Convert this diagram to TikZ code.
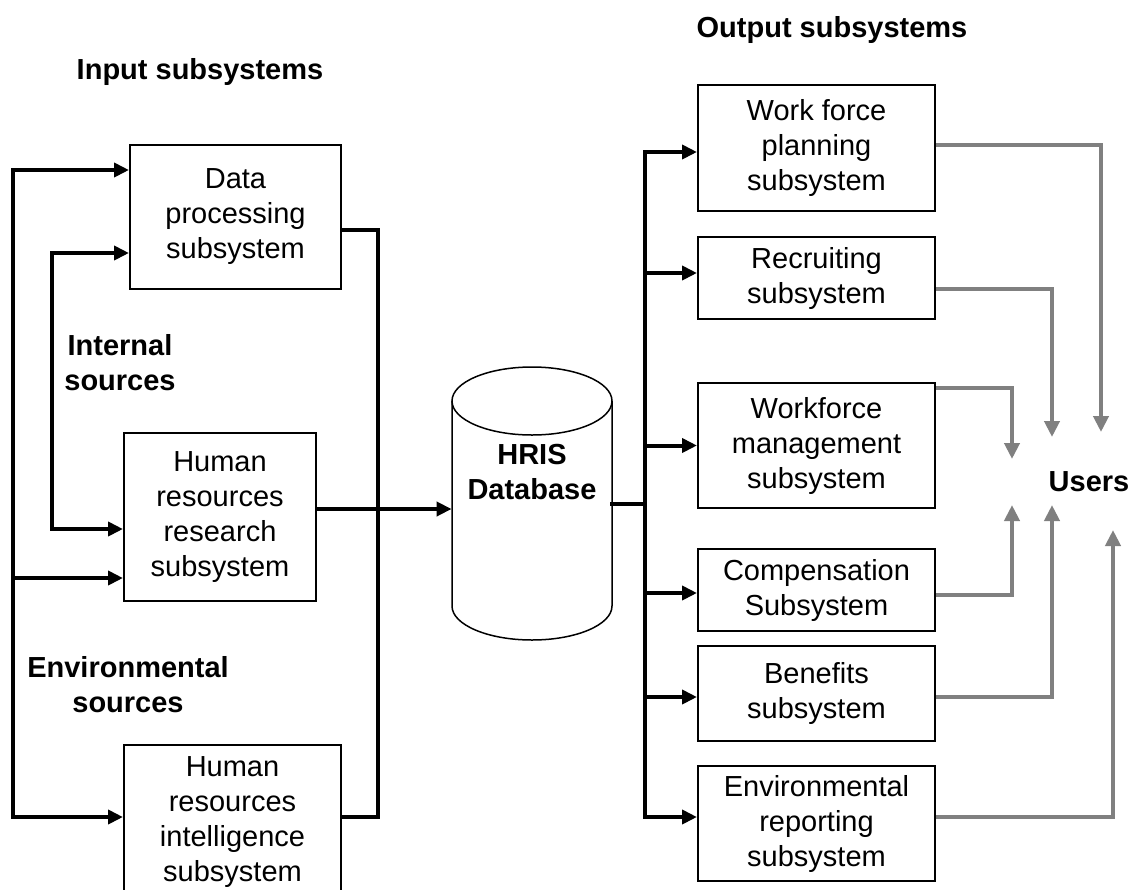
\documentclass[tikz,border=0pt]{standalone}
\usepackage{fontspec}
\setmainfont{Liberation Sans}
\usetikzlibrary{arrows.meta}
\definecolor{uGray}{HTML}{808080}
\tikzset{
  subbox/.style={draw, line width=1pt, align=center, inner sep=1pt},
  hdr/.style={font=\fontsize{14.5}{17.5}\selectfont\bfseries, align=center},
  flow/.style={line width=2pt, -{Triangle[length=7.5pt,width=7pt]}},
  bus/.style={line width=2pt, line cap=rect},
  uflow/.style={uGray, line width=2pt, -{Triangle[length=8pt,width=7.5pt]}},
}

\begin{document}
\begin{tikzpicture}[x=0.5pt, y=-0.5pt, font=\fontsize{14.5}{17.5}\selectfont]
\useasboundingbox (0,0) rectangle (1132,890);
% headings
\node[hdr] (inhdr) at (200,72) {Input subsystems};
\node[hdr] (outhdr) at (832,30) {Output subsystems};
\node[hdr] (intsrc) at (120,363) {Internal\\sources};
\node[hdr] (envsrc) at (128,685) {Environmental\\sources};
\node[hdr] (users) at (1089,482) {Users};
% input subsystems
\node[subbox, minimum width=105.5pt, minimum height=72pt] (dps) at (235.5,217) {Data\\processing\\subsystem};
\node[subbox, minimum width=96pt, minimum height=84pt] (hrr) at (220,517) {Human\\resources\\research\\subsystem};
\node[subbox, minimum width=108.5pt, minimum height=77.5pt] (hri) at (232.5,822.5) {Human\\resources\\intelligence\\subsystem};
% database
\node[minimum width=80pt, minimum height=136.5pt, inner sep=0pt] (db) at (532,503.5) {};
\node[hdr] (dbtxt) at (532,472) {HRIS\\Database};
\draw[line width=0.75pt] (532,401) ellipse [x radius=40pt, y radius=17pt];
\draw[line width=0.75pt] (452,401) -- (452,606) arc[start angle=180, end angle=360, x radius=40pt, y radius=17pt] -- (612,401);
% output subsystems
\node[subbox, minimum width=118.5pt, minimum height=63pt] (wfp) at (816.5,148) {Work force\\planning\\subsystem};
\node[subbox, minimum width=118.5pt, minimum height=41pt] (rec) at (816.5,278) {Recruiting\\subsystem};
\node[subbox, minimum width=118.5pt, minimum height=62.5pt] (wfm) at (816.5,445.5) {Workforce\\management\\subsystem};
\node[subbox, minimum width=118.5pt, minimum height=41pt] (comp) at (816.5,590) {Compensation\\Subsystem};
\node[subbox, minimum width=118.5pt, minimum height=47.5pt] (ben) at (816.5,693.5) {Benefits\\subsystem};
\node[subbox, minimum width=118.5pt, minimum height=57.5pt] (env) at (816.5,823.5) {Environmental\\reporting\\subsystem};

\coordinate (lo1) at (13,170);
\coordinate (lo2) at (13,817);
\coordinate (lo3) at (13,578);
\coordinate (li1) at (52,253);
\coordinate (li2) at (52,529);
\coordinate (ri1) at (378,230);
\coordinate (ri2) at (378,817);
\coordinate (otop) at (645,152);
\coordinate (obot) at (645,817);
\coordinate (u1) at (1101,432);
\coordinate (u2) at (1052,437);
\coordinate (u3) at (1012,459);
\coordinate (u4) at (1012,505);
\coordinate (u5) at (1052,505);
\coordinate (u6) at (1113,530);

% sources into input subsystems
\draw[bus] (lo1) -- (lo2);
\draw[flow] (lo1) -- (lo1 -| dps.west);
\draw[flow] (lo3) -- (lo3 -| hrr.west);
\draw[flow] (lo2) -- (lo2 -| hri.west);
\draw[bus] (li1) -- (li2);
\draw[flow] (li1) -- (li1 -| dps.west);
\draw[flow] (li2) -- (li2 -| hrr.west);

% input subsystems into the database
\draw[bus] (ri1) -- (ri2);
\draw[bus] (ri1 -| dps.east) -- (ri1);
\draw[bus] (ri2 -| hri.east) -- (ri2);
\draw[flow] ([yshift=4pt]hrr.east) -- ([yshift=4pt]hrr.east -| db.west);

% database to output subsystems
\draw[bus] (db.east) -- (db.east -| otop);
\draw[bus] (otop) -- (obot);
\foreach \n/\dy in {wfp/-2pt, rec/2.5pt, wfm/0pt, comp/-1.5pt, ben/-1.75pt, env/3.25pt}
  \draw[flow] ([yshift=\dy]otop |- \n.west) -- ([yshift=\dy]\n.west);

% outputs to users
\draw[uflow] ([yshift=1.5pt]wfp.east) -| (u1);
\draw[uflow] ([yshift=-5.5pt]rec.east) -| (u2);
\draw[uflow] ([yshift=-3pt]wfm.north east) -| (u3);
\draw[uflow] ([yshift=-2.5pt]comp.east) -| (u4);
\draw[uflow] ([yshift=-1.75pt]ben.east) -| (u5);
\draw[uflow] ([yshift=3.25pt]env.east) -| (u6);
\end{tikzpicture}
\end{document}
